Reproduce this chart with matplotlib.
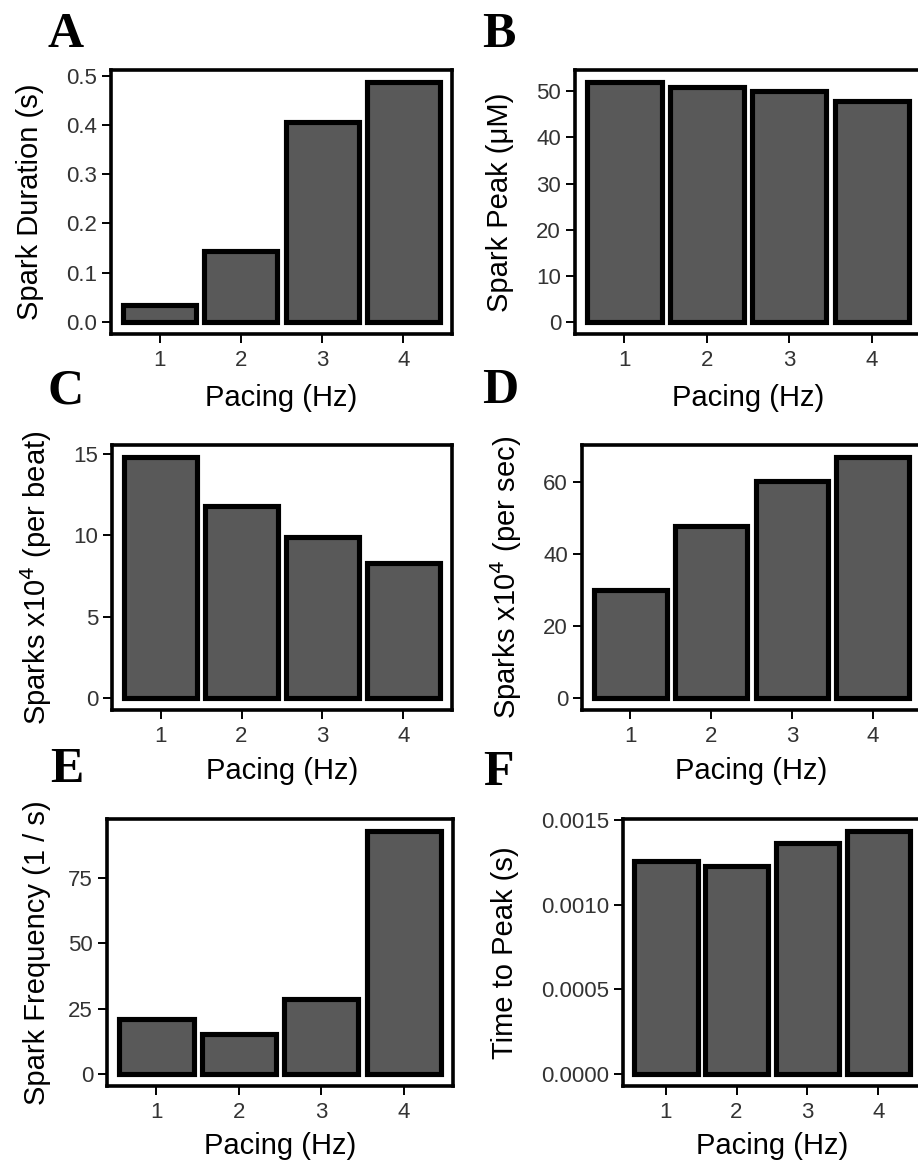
import matplotlib
matplotlib.use('Agg')
import matplotlib.pyplot as plt
import numpy as np

# values
pacing = [1, 2, 3, 4]
spark_duration = [0.034, 0.145, 0.406, 0.487]
spark_peak = [52.0, 51.0, 50.0, 47.9]
sparks_per_beat = [14.8, 11.8, 9.9, 8.3]
sparks_per_sec = [29.9, 47.8, 60.3, 67.0]
spark_freq = [21.0, 15.2, 28.5, 93.0]
time_to_peak = [0.001257, 0.001230, 0.001365, 0.001436]

W, H = 918, 1162
DPI = 100

plt.rcParams['font.family'] = ['Liberation Sans', 'DejaVu Sans']

fig = plt.figure(figsize=(W / DPI, H / DPI), dpi=DPI)
fig.patch.set_facecolor('white')


def add_axes_px(left, top, right, bottom):
    """axes from pixel box (y measured from top)"""
    return fig.add_axes([left / W, 1 - bottom / H, (right - left) / W, (bottom - top) / H])


def draw_panel(ax, values, ylabel, yticks, fmt, box, ylab_right, xlab_top):
    left, top, right, bottom = box
    ax.bar(pacing, values, width=0.9, color='#595959', edgecolor='black',
           linewidth=3.7, zorder=2)
    ymax = max(values)
    ax.set_ylim(-0.05 * ymax, 1.05 * ymax)
    ax.set_xlim(0.4, 4.6)
    ax.set_xticks(pacing)
    ax.set_xticklabels([str(p) for p in pacing])
    ax.set_yticks(yticks)
    ax.set_yticklabels([fmt.format(t) for t in yticks])
    for sp in ax.spines.values():
        sp.set_linewidth(2.6)
        sp.set_color('black')
    ax.tick_params(axis='both', direction='out', length=6.5, width=1.4,
                   colors='black', labelcolor='#333333', labelsize=16)
    ax.tick_params(axis='x', pad=5)
    ax.tick_params(axis='y', pad=3.5)
    ax.set_ylabel(ylabel, fontsize=21, color='black')
    ax.set_xlabel('Pacing (Hz)', fontsize=21, color='black')
    ax.yaxis.set_label_coords((ylab_right - left) / (right - left), 0.5)
    ax.xaxis.set_label_coords(0.5, (bottom - xlab_top) / (bottom - top))


panels = [
    # values, ylabel, ticks, format, box (l, t, r, b), ylabel right px, xlabel top px
    (spark_duration, 'Spark Duration (s)', [0, 0.1, 0.2, 0.3, 0.4, 0.5], '{:.1f}',
     (111, 70, 452, 334), 44, 384),
    (spark_peak, 'Spark Peak (μM)', [0, 10, 20, 30, 40, 50], '{:.0f}',
     (575, 70, 921, 334), 514, 384),
    (sparks_per_beat, 'Sparks x10$^4$ (per beat)', [0, 5, 10, 15], '{:.0f}',
     (112, 445, 452, 710), 54, 757),
    (sparks_per_sec, 'Sparks x10$^4$ (per sec)', [0, 20, 40, 60], '{:.0f}',
     (582, 445, 921, 710), 524, 757),
    (spark_freq, 'Spark Frequency (1 / s)', [0, 25, 50, 75], '{:.0f}',
     (107, 819, 453, 1086), 51, 1132),
    (time_to_peak, 'Time to Peak (s)', [0, 0.0005, 0.0010, 0.0015], '{:.4f}',
     (623, 819, 921, 1086), 519, 1132),
]

for vals, ylab, ticks, fmt, box, ylr, xlt in panels:
    ax = add_axes_px(*box)
    draw_panel(ax, vals, ylab, ticks, fmt, box, ylr, xlt)

# panel letters
letters = [('A', 48, 47), ('B', 482, 47), ('C', 48, 403),
           ('D', 482, 403), ('E', 50, 782), ('F', 483, 785)]
for lab, x, y in letters:
    fig.text(x / W, 1 - y / H, lab, fontsize=36, fontweight='bold',
             family=['Liberation Serif', 'DejaVu Serif'], va='baseline', ha='left')

fig.savefig('out.png', dpi=DPI)
